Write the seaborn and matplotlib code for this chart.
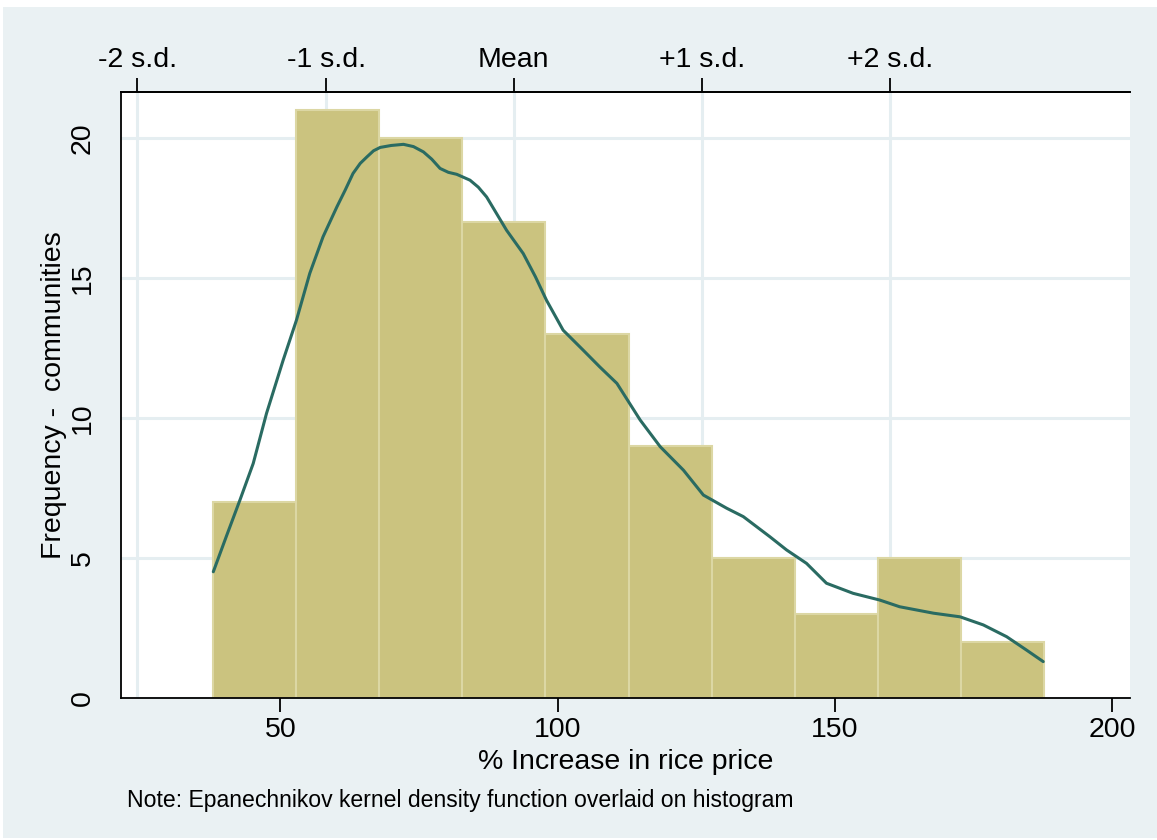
import numpy as np
import pandas as pd
import matplotlib
matplotlib.use('Agg')
import matplotlib.pyplot as plt
from matplotlib.patches import Rectangle
import seaborn as sns

# histogram bins
bin_edges = [37.8, 52.8, 67.8, 82.8, 97.8, 112.8, 127.8, 142.8, 157.8, 172.8, 187.8]
counts = [7, 21, 20, 17, 13, 9, 5, 3, 5, 2]

# epanechnikov kernel density, scaled to frequency
kde_x = [37.9, 40.3, 42.7, 45.1, 47.5, 50.5, 52.9, 55.3, 57.7, 60.2, 61.7, 63.1, 64.4,
         65.6, 66.8, 68.0, 70.0, 72.2, 74.0, 75.8, 77.3, 78.8, 80.3, 81.8, 84.2, 85.7,
         87.2, 90.8, 93.8, 96.0, 98.0, 101.0, 104.6, 107.6, 110.7, 114.9, 118.5, 122.7,
         126.3, 130.5, 133.5, 138.3, 141.3, 144.9, 148.5, 153.3, 158.1, 161.7, 167.8,
         172.6, 176.8, 181.0, 184.6, 187.6]
kde_y = [4.51, 5.8, 7.07, 8.38, 10.17, 12.07, 13.5, 15.17, 16.48, 17.55, 18.15, 18.74,
         19.1, 19.33, 19.55, 19.67, 19.74, 19.78, 19.7, 19.51, 19.25, 18.92, 18.78, 18.71,
         18.5, 18.25, 17.9, 16.71, 15.88, 15.05, 14.21, 13.14, 12.43, 11.83, 11.24, 9.93,
         8.98, 8.14, 7.25, 6.78, 6.48, 5.76, 5.29, 4.81, 4.1, 3.74, 3.5, 3.26, 3.03, 2.9,
         2.61, 2.19, 1.71, 1.3]

# standard deviation markers on top axis
sd_ticks = [24.15, 58.3, 92.1, 126.1, 159.9]
sd_labels = ['-2 s.d.', '-1 s.d.', 'Mean', '+1 s.d.', '+2 s.d.']

bottom_ticks = [50, 100, 150, 200]
left_ticks = [0, 5, 10, 15, 20]

centers = [(a + b) / 2 for a, b in zip(bin_edges[:-1], bin_edges[1:])]
df = pd.DataFrame({'price': centers, 'n': counts})
kde = pd.DataFrame({'x': kde_x, 'y': kde_y})

sns.set_style('white')
plt.rcParams['font.family'] = ['Liberation Sans', 'DejaVu Sans']
plt.rcParams['text.color'] = 'black'
plt.rcParams['axes.labelcolor'] = 'black'
plt.rcParams['xtick.color'] = 'black'
plt.rcParams['ytick.color'] = 'black'

bg = '#EAF1F3'
fig = plt.figure(figsize=(11.57, 8.40), dpi=100, facecolor='white')
fig.patches.append(Rectangle((3 / 1157, 2 / 840), 1 - 3 / 1157, 831 / 840,
                             transform=fig.transFigure, facecolor=bg, edgecolor='none', zorder=-10))
ax = fig.add_axes([121 / 1157, 142 / 840, 1009 / 1157, 606 / 840])
ax.set_facecolor('white')

sns.histplot(data=df, x='price', weights='n', bins=bin_edges, ax=ax,
             color='#CBC37F', edgecolor='#DCD7A4', linewidth=1.5, alpha=1, zorder=2)
sns.lineplot(data=kde, x='x', y='y', ax=ax, color='#2A6B62', linewidth=2.2, zorder=3)

ax.set_xlim(21.25, 203.25)
ax.set_ylim(0, 21.65)

ax.set_xticks(bottom_ticks)
ax.set_yticks(left_ticks)
ax.set_yticklabels([str(v) for v in left_ticks], rotation=90, va='center')
ax.tick_params(axis='both', labelsize=20.5, length=10, width=1.3, direction='out',
               colors='black', pad=8)
ax.tick_params(axis='x', pad=4)

# horizontal gridlines at y ticks
ax.yaxis.grid(True, color='#E5EEF1', linewidth=2.2, zorder=0)
ax.set_axisbelow(True)

ax.set_xlabel('% Increase in rice price', fontsize=20.5, labelpad=4, color='black')
ax.set_ylabel('Frequency -  communities', fontsize=20.5, labelpad=2, color='black')

for s in ['left', 'bottom', 'top']:
    ax.spines[s].set_color('black')
    ax.spines[s].set_linewidth(1.3)
ax.spines['right'].set_visible(False)

# top axis with s.d. markers
top = ax.twiny()
top.set_xlim(ax.get_xlim())
top.set_xticks(sd_ticks)
top.set_xticklabels(sd_labels)
top.tick_params(axis='x', labelsize=20.5, length=10, width=1.3, direction='out', pad=4,
                colors='black')
for s in ['left', 'bottom', 'right']:
    top.spines[s].set_visible(False)
top.spines['top'].set_linewidth(1.3)
top.spines['top'].set_color('black')
for xv in sd_ticks:
    ax.axvline(xv, color='#E5EEF1', linewidth=2.2, zorder=0)

fig.text(127 / 1157, 1 - 800 / 840, 'Note: Epanechnikov kernel density function overlaid on histogram',
         fontsize=16.6, va='center', ha='left', color='black')

fig.savefig('out.png', dpi=100, facecolor='white')
